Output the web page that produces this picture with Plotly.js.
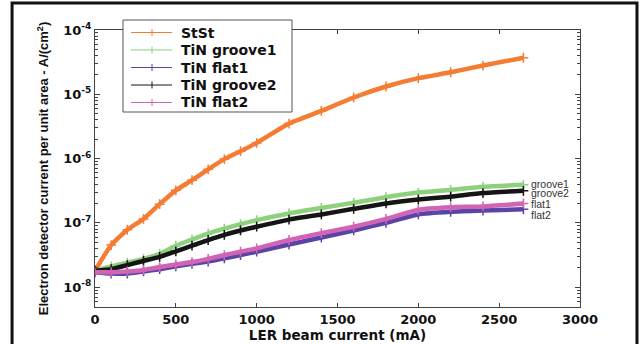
<!DOCTYPE html>
<html><head><meta charset="utf-8">
<script src="https://cdn.plot.ly/plotly-3.0.1.min.js"></script>
<style>html,body{margin:0;padding:0;background:#fff}#chart{width:641px;height:344px}</style>
</head><body><div id="chart"></div>
<script>
const beamCurrent = [0,100,200,300,400,500,600,700,800,900,1000,1200,1400,1600,1800,2000,2200,2400,2650];
const stSt      = [1.8e-8,4.5e-8,7.8e-8,1.15e-7,1.95e-7,3.2e-7,4.6e-7,6.8e-7,9.8e-7,1.3e-6,1.75e-6,3.5e-6,5.5e-6,8.9e-6,1.32e-5,1.78e-5,2.2e-5,2.8e-5,3.7e-5];
const tinGroove1= [1.8e-8,2.1e-8,2.4e-8,2.75e-8,3.3e-8,4.4e-8,5.5e-8,6.8e-8,8.1e-8,9.5e-8,1.1e-7,1.4e-7,1.7e-7,2.05e-7,2.5e-7,2.95e-7,3.25e-7,3.65e-7,3.9e-7];
const tinFlat1  = [1.7e-8,1.62e-8,1.62e-8,1.75e-8,1.9e-8,2.1e-8,2.3e-8,2.5e-8,2.8e-8,3.15e-8,3.55e-8,4.6e-8,5.9e-8,7.6e-8,1.0e-7,1.35e-7,1.48e-7,1.55e-7,1.62e-7];
const tinGroove2= [1.8e-8,1.9e-8,2.2e-8,2.55e-8,2.95e-8,3.6e-8,4.4e-8,5.4e-8,6.5e-8,7.6e-8,8.7e-8,1.12e-7,1.35e-7,1.65e-7,2.0e-7,2.3e-7,2.55e-7,2.9e-7,3.15e-7];
const tinFlat2  = [1.7e-8,1.7e-8,1.75e-8,1.85e-8,2.05e-8,2.25e-8,2.45e-8,2.75e-8,3.15e-8,3.55e-8,4.0e-8,5.4e-8,6.9e-8,8.7e-8,1.15e-7,1.6e-7,1.75e-7,1.8e-7,2.0e-7];
const seriesNames = ["StSt","TiN groove1","TiN flat1","TiN groove2","TiN flat2"];
const seriesColors = ["#f57c33","#8fd07e","#5b44a8","#151515","#d264b4"];
const endLabels = ["groove1","groove2","flat1","flat2"];
const endLabelY = [4.0e-7,2.9e-7,1.95e-7,1.32e-7];
const yTickVals = [1e-8,1e-7,1e-6,1e-5,1e-4];
const yTickText = ["10<sup>-8</sup>","10<sup>-7</sup>","10<sup>-6</sup>","10<sup>-5</sup>","10<sup>-4</sup>"];

const allY = [stSt,tinGroove1,tinFlat1,tinGroove2,tinFlat2];
const traces = allY.map((ys,i)=>({x:beamCurrent,y:ys,type:'scatter',mode:'lines+markers',name:seriesNames[i],showlegend:false,
    line:{color:seriesColors[i],width:4.5,shape:'spline',smoothing:0.5},
    marker:{symbol:'cross-thin-open',size:7,line:{color:seriesColors[i],width:1.5}}}));

const A = 'Arial, "Liberation Sans", sans-serif';
const D = '"DejaVu Sans", sans-serif';

// pixel -> paper helpers (plot area: x 95..580, y 30..307)
const px = v => (v-95)/485, py = v => (307-v)/277;
const annotations = endLabels.map((t,i)=>({x:2685,y:Math.log10(endLabelY[i]),xref:'x',yref:'y',text:t,showarrow:false,xanchor:'left',yanchor:'middle',font:{family:A,size:10.5,color:'#333'}}));
const shapes = [
  {type:'rect',xref:'paper',yref:'paper',x0:-0.171,x1:1.1175,y0:-0.2,y1:1.0975,line:{color:'#111',width:3},fillcolor:'rgba(0,0,0,0)',layer:'below'},
  {type:'rect',xref:'paper',yref:'paper',x0:px(123),x1:px(292),y0:py(112),y1:py(20),line:{color:'#555',width:1},fillcolor:'#fff',layer:'above'}
];
const rowY = [32.5,50,67.5,85,102.5];
seriesNames.forEach((n,i)=>{
  shapes.push({type:'line',xref:'paper',yref:'paper',x0:px(131),x1:px(172),y0:py(rowY[i]),y1:py(rowY[i]),line:{color:seriesColors[i],width:1}});
  shapes.push({type:'line',xref:'paper',yref:'paper',x0:px(152),x1:px(152),y0:py(rowY[i]-3.5),y1:py(rowY[i]+3.5),line:{color:seriesColors[i],width:1}});
  annotations.push({xref:'paper',yref:'paper',x:px(179),y:py(rowY[i]),text:n,showarrow:false,xanchor:'left',yanchor:'middle',
    font:{family:D,size:14,color:'#111',weight:'bold'}});
});

const layout = {
  width:641,height:344,
  margin:{l:95,r:61,t:30,b:37,pad:0},
  paper_bgcolor:'#fff',plot_bgcolor:'#fff',
  showlegend:false,
  font:{family:D,color:'#111'},
  xaxis:{range:[0,3000],tickvals:[0,500,1000,1500,2000,2500,3000],ticks:'inside',ticklen:4,tickcolor:'#444',
    showline:true,linecolor:'#444',linewidth:1,mirror:'ticks',showgrid:false,zeroline:false,
    tickfont:{family:D,size:13,color:'#111',weight:'bold'},
    title:{text:'LER beam current (mA)',font:{family:D,size:13.5,color:'#111',weight:'bold'},standoff:2}},
  yaxis:{type:'log',range:[-8.31,-4],tickvals:yTickVals,ticktext:yTickText,ticks:'inside',ticklen:5,tickcolor:'#444',
    showline:true,linecolor:'#444',linewidth:1,mirror:'ticks',showgrid:false,zeroline:false,
    minor:{ticks:'inside',ticklen:3,tickcolor:'#444',dtick:'D1',showgrid:false},
    tickfont:{family:D,size:13,color:'#111',weight:'bold'},
    title:{text:'Electron detector current per unit area - A/(cm<sup>2</sup>)',font:{family:A,size:13,color:'#111',weight:'bold'},standoff:11}},
  annotations:annotations,
  shapes:shapes
};
Plotly.newPlot('chart',traces,layout,{displayModeBar:false,staticPlot:true});
</script></body></html>
